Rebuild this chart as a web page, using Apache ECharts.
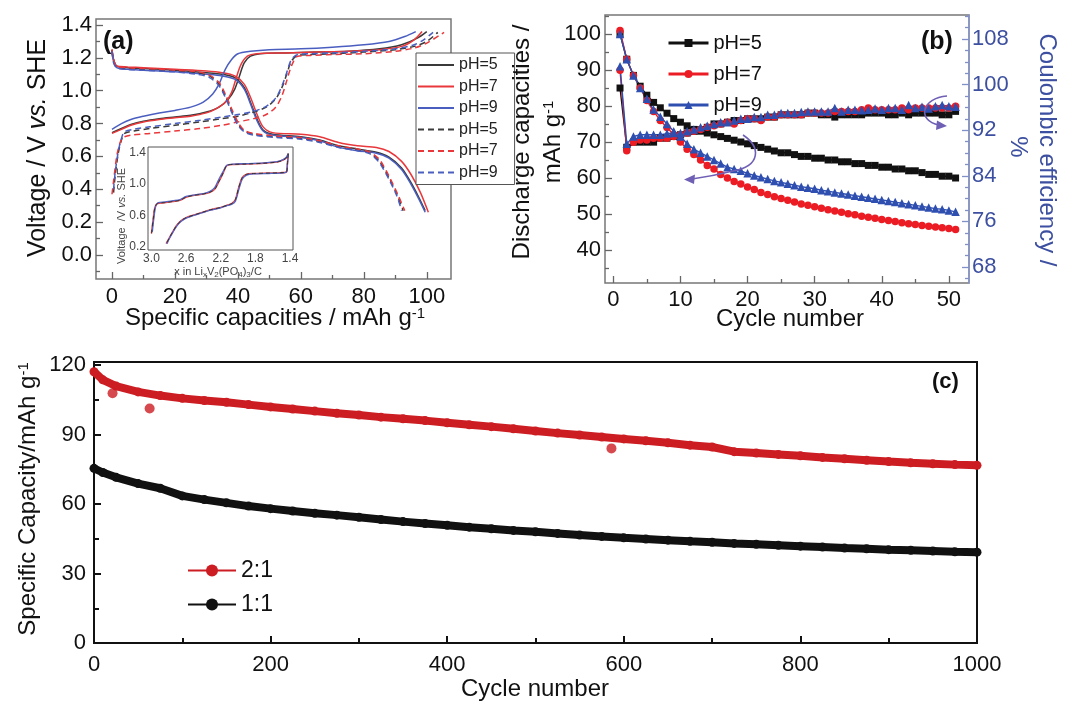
<!DOCTYPE html>
<html><head><meta charset="utf-8">
<script src="https://cdn.jsdelivr.net/npm/echarts@6/dist/echarts.min.js"></script>
<style>html,body{margin:0;padding:0;background:#fff}#c{width:1065px;height:702px}</style>
</head><body><div id="c"></div>
<script>
// ================= DATA =================
// Panel (a): specific capacity (mAh/g) vs voltage (V)
const aS5Charge = [[0,0.745],[3,0.77],[6,0.795],[10,0.815],[15,0.83],[20,0.84],[25,0.85],[30,0.87],[34,0.90],[37,0.95],[39,1.01],[40.5,1.09],[42,1.17],[44,1.21],[47,1.225],[55,1.23],[65,1.235],[75,1.24],[85,1.255],[92,1.28],[97,1.32],[100,1.36]];
const aS5Dis = [[0,1.25],[0.5,1.19],[1.5,1.15],[5,1.14],[10,1.135],[20,1.125],[30,1.11],[35,1.10],[39,1.08],[42,1.02],[44,0.93],[46,0.83],[48,0.76],[51,0.735],[60,0.72],[66,0.70],[72,0.665],[78,0.645],[84,0.625],[88,0.595],[92,0.53],[95,0.44],[97.5,0.35],[99.5,0.27]];
const aS7Charge = [[0,0.74],[3,0.765],[6,0.79],[10,0.81],[15,0.825],[20,0.835],[25,0.845],[30,0.865],[33,0.89],[36,0.93],[38,0.99],[39.5,1.08],[41,1.16],[43,1.21],[46,1.225],[55,1.23],[65,1.235],[75,1.24],[85,1.25],[92,1.27],[96,1.31],[98.5,1.36]];
const aS7Dis = [[0,1.25],[0.5,1.19],[1.5,1.15],[5,1.145],[10,1.14],[20,1.13],[30,1.12],[35,1.11],[39,1.09],[42,1.04],[44,0.96],[46,0.86],[48,0.78],[51,0.745],[60,0.735],[66,0.72],[72,0.685],[78,0.665],[84,0.655],[88,0.63],[92,0.57],[95,0.49],[98,0.38],[100.5,0.26]];
const aS9Charge = [[0,0.765],[3,0.80],[6,0.825],[10,0.845],[15,0.865],[20,0.88],[25,0.90],[29,0.93],[32,0.98],[34,1.04],[36,1.13],[38,1.19],[40,1.225],[44,1.24],[50,1.25],[60,1.255],[70,1.265],[80,1.28],[88,1.30],[93,1.33],[96.5,1.36]];
const aS9Dis = [[0,1.245],[0.5,1.18],[1.5,1.14],[5,1.13],[10,1.125],[20,1.115],[30,1.10],[35,1.09],[39,1.07],[42,1.01],[44,0.92],[46,0.82],[48,0.755],[51,0.73],[60,0.715],[66,0.695],[72,0.655],[78,0.635],[84,0.62],[88,0.59],[92,0.52],[95,0.43],[97.5,0.34],[99.5,0.26]];
const aD5Charge = [[0.5,0.38],[1,0.48],[2,0.62],[3,0.70],[4,0.74],[7,0.755],[12,0.77],[20,0.79],[28,0.81],[35,0.83],[40,0.845],[45,0.87],[49,0.90],[52,0.95],[54,1.02],[55.5,1.10],[57,1.18],[59,1.215],[63,1.22],[70,1.225],[80,1.235],[90,1.25],[96,1.27],[100,1.30],[103.5,1.355]];
const aD5Dis = [[0,1.245],[0.5,1.18],[1.5,1.145],[5,1.135],[10,1.13],[20,1.12],[27,1.11],[31,1.09],[34,1.04],[36,0.97],[38,0.88],[40,0.80],[42,0.755],[45,0.735],[52,0.72],[60,0.71],[66,0.69],[72,0.66],[78,0.64],[82,0.62],[85,0.57],[88,0.47],[90.5,0.37],[92.5,0.27]];
const aD7Charge = [[0,0.37],[0.5,0.45],[1.5,0.60],[2.5,0.68],[3.5,0.715],[6,0.73],[12,0.74],[20,0.755],[28,0.77],[35,0.79],[40,0.81],[45,0.83],[49,0.855],[52,0.90],[54,0.97],[55.5,1.06],[57,1.15],[59,1.21],[63,1.215],[70,1.22],[80,1.225],[90,1.24],[96,1.26],[100,1.29],[105.5,1.355]];
const aD7Dis = [[0,1.25],[0.5,1.19],[1.5,1.15],[5,1.14],[10,1.135],[20,1.125],[27,1.115],[31,1.095],[34,1.05],[36,0.98],[38,0.89],[40,0.81],[42,0.76],[45,0.74],[52,0.725],[60,0.715],[66,0.695],[72,0.665],[78,0.645],[82,0.625],[85,0.58],[88,0.48],[91,0.36],[93,0.27]];
const aD9Charge = [[0.5,0.40],[1,0.50],[2,0.63],[3,0.71],[4,0.75],[7,0.765],[12,0.78],[20,0.80],[28,0.82],[35,0.84],[40,0.855],[45,0.875],[49,0.905],[52,0.955],[54,1.03],[55.5,1.11],[57,1.19],[59,1.22],[63,1.225],[70,1.23],[80,1.24],[90,1.255],[96,1.28],[99,1.31],[102,1.355]];
const aD9Dis = [[0,1.24],[0.5,1.17],[1.5,1.14],[5,1.13],[10,1.125],[20,1.115],[27,1.10],[31,1.08],[34,1.03],[36,0.96],[38,0.87],[40,0.79],[42,0.75],[45,0.73],[52,0.715],[60,0.705],[66,0.685],[72,0.655],[78,0.635],[82,0.615],[85,0.56],[88,0.46],[90.5,0.36],[92,0.27]];
const aXTicks = [0,20,40,60,80,100];
const aXMinor = [10,30,50,70,90];
const aYTicks = [0,0.2,0.4,0.6,0.8,1.0,1.2,1.4];
const aYMinor = [-0.1,0.1,0.3,0.5,0.7,0.9,1.1,1.3];

// Inset: x in LixV2(PO4)3/C vs voltage
const inRedCharge = [[3.0,0.37],[2.98,0.55],[2.96,0.70],[2.93,0.75],[2.85,0.76],[2.75,0.775],[2.67,0.79],[2.60,0.83],[2.50,0.855],[2.40,0.87],[2.33,0.89],[2.27,0.93],[2.22,1.03],[2.17,1.14],[2.13,1.23],[2.05,1.245],[1.90,1.25],[1.70,1.26],[1.55,1.275],[1.48,1.30],[1.44,1.33],[1.42,1.38]];
const inRedDis = [[1.42,1.38],[1.43,1.25],[1.44,1.15],[1.51,1.14],[1.65,1.135],[1.82,1.13],[1.90,1.12],[1.95,1.08],[1.99,0.96],[2.03,0.80],[2.07,0.75],[2.12,0.73],[2.20,0.70],[2.32,0.67],[2.42,0.635],[2.52,0.60],[2.60,0.57],[2.66,0.53],[2.71,0.47],[2.76,0.38],[2.80,0.30],[2.83,0.24]];
const inBlueCharge = [[2.99,0.39],[2.97,0.58],[2.95,0.72],[2.92,0.76],[2.85,0.77],[2.75,0.785],[2.67,0.80],[2.60,0.84],[2.50,0.86],[2.40,0.875],[2.33,0.90],[2.27,0.95],[2.22,1.06],[2.17,1.16],[2.13,1.235],[2.05,1.25],[1.90,1.255],[1.70,1.265],[1.55,1.28],[1.48,1.305],[1.44,1.34],[1.42,1.38]];
const inBlueDis = [[1.42,1.38],[1.43,1.24],[1.445,1.145],[1.51,1.135],[1.65,1.13],[1.82,1.125],[1.90,1.11],[1.95,1.06],[1.99,0.93],[2.03,0.78],[2.07,0.74],[2.12,0.725],[2.20,0.695],[2.32,0.665],[2.42,0.63],[2.52,0.595],[2.60,0.565],[2.66,0.52],[2.71,0.46],[2.76,0.37],[2.80,0.29],[2.82,0.24]];
const inXTicks = [1.4,1.8,2.2,2.6,3.0];
const inXMinor = [1.6,2.0,2.4,2.8];
const inYTicks = [0.2,0.6,1.0,1.4];
const inYMinor = [0.4,0.8,1.2];

// Panel (b): cycles 1..51
const bCycles = [1,2,3,4,5,6,7,8,9,10,11,12,13,14,15,16,17,18,19,20,21,22,23,24,25,26,27,28,29,30,31,32,33,34,35,36,37,38,39,40,41,42,43,44,45,46,47,48,49,50,51];
const bCap5 = [100,93,88.5,85.5,83,81,79.5,78,76.5,75.5,74.5,73.5,73,72.5,72,71.5,71,70.5,70,69.5,69,68.5,68,67.5,67,67,66.5,66,66,65.5,65.5,65,65,64.5,64.5,64,64,63.5,63.5,63,63,62.5,62.5,62,62,61.5,61,61,60.5,60.5,60];
const bCap7 = [101,93,88.5,85,81.5,78.5,76,74,72,70,68,66.5,65,63.5,62.5,61,60,59,58.3,57.5,56.8,56,55.4,54.8,54.3,53.8,53.3,52.8,52.4,52,51.6,51.2,50.8,50.5,50.1,49.8,49.4,49.1,48.8,48.5,48.2,47.9,47.6,47.3,47.1,46.8,46.6,46.4,46.2,46,45.7];
const bCap9 = [100,93,88.5,85,82,79,77,75,73,71.5,69.5,68,67,66,65,64,63,62.5,62,61.3,60.7,60.2,59.7,59.2,58.8,58.4,58,57.6,57.3,57,56.6,56.3,56,55.7,55.4,55.1,54.8,54.5,54.2,53.9,53.6,53.3,53,52.7,52.4,52.1,51.8,51.5,51.3,51,50.6];
const bCE5 = [99.4,89.0,89.9,89.9,89.9,89.9,90.6,90.6,90.9,91.2,91.5,91.8,92.1,92.5,93.1,93.1,93.4,93.7,93.7,94.0,94.0,94.0,94.3,94.3,94.7,94.7,94.7,94.7,95.0,95.0,94.7,94.7,94.3,94.7,94.7,94.7,94.7,95.0,95.0,95.0,94.7,94.7,95.0,94.7,95.0,95.0,95.0,95.0,94.7,94.7,95.3];
const bCE7 = [102.5,88.4,89.9,90.3,90.3,90.6,90.6,90.6,90.9,91.2,91.5,91.8,92.1,92.5,92.8,93.1,93.4,93.1,93.7,94.0,94.0,93.7,94.3,94.3,94.7,94.7,94.7,94.7,95.0,95.0,95.0,95.0,95.3,95.3,95.3,95.3,95.6,95.9,95.6,95.6,95.6,95.6,95.9,95.6,95.9,95.9,95.9,95.9,95.9,95.9,96.2];
const bCE9 = [103.2,89.6,90.9,91.2,91.2,91.2,91.2,91.4,91.5,91.5,91.8,92.1,92.5,92.8,93.1,93.4,93.4,93.7,94.0,94.0,94.3,94.3,94.7,94.7,95.0,95.0,95.0,95.2,95.3,95.3,95.3,95.3,95.9,95.3,95.6,95.6,95.5,95.6,95.8,95.6,95.9,95.9,95.6,96.4,95.9,96.1,95.8,96.2,96.4,96.2,96.1];
const bXTicks = [0,10,20,30,40,50];
const bXMinor = [5,15,25,35,45];
const bYTicks = [40,50,60,70,80,90,100];
const bYMinor = [35,45,55,65,75,85,95,105];
const bRTicks = [68,76,84,92,100,108];
const bRMinor = [66,70,72,74,78,80,82,86,88,90,94,96,98,102,104,106,110,112];

// Panel (c): long cycling
const cCycles = [0,10,25,50,75,100,125,150,175,200,225,250,275,300,325,350,375,400,425,450,475,500,525,550,575,600,625,650,675,700,725,750,775,800,825,850,875,900,925,950,975,1000];
const c21 = [117.1,113.6,110.9,108.4,106.8,105.6,104.7,103.9,102.9,101.9,101.0,100.1,99.2,98.4,97.5,96.8,96.0,95.1,94.2,93.4,92.5,91.5,90.6,89.8,88.9,88.1,87.3,86.4,85.4,84.6,82.6,82.0,81.4,80.8,80.1,79.5,78.9,78.3,77.8,77.4,77.0,76.7];
const c11 = [75.4,73.6,71.5,68.8,66.8,63.5,61.9,60.5,59.1,58.0,57.0,56.0,55.2,54.3,53.3,52.4,51.6,50.8,50.0,49.3,48.6,48.0,47.3,46.6,46.0,45.4,44.9,44.4,43.9,43.5,43.0,42.6,42.2,41.8,41.4,41.0,40.7,40.3,40.0,39.7,39.4,39.2];
const c21Outliers = [[21,107.8],[63,101.2],[586,84.0]];
const cXTicks = [0,200,400,600,800,1000];
const cXMinor = [100,300,500,700,900];
const cYTicks = [0,30,60,90,120];
const cYMinor = [15,45,75,105];

// ================= CHART =================
const FF = 'Liberation Sans, Arial, Helvetica, sans-serif';
const zip = (xs, ys) => xs.map((x, i) => [x, ys[i]]);
const plain = v => String(v);

function axisPair(o) {
  const base = {
    type: 'value', gridIndex: o.grid, position: o.pos, min: o.min, max: o.max,
    inverse: !!o.inverse, splitLine: {show: false}, offset: 0
  };
  const main = Object.assign({}, base, {
    axisLine: o.line ? {show: true, onZero: false, lineStyle: o.line} : {show: false, onZero: false},
    axisTick: {show: true, inside: true, length: o.majorLen || 7, customValues: o.major,
      lineStyle: {color: o.tickColor || '#444', width: o.tickW || 1.3}},
    axisLabel: {show: true, customValues: o.major, fontFamily: FF, fontSize: o.fs,
      color: o.labelColor || '#111', margin: o.margin, formatter: o.fmt || plain}
  });
  const minor = Object.assign({}, base, {
    axisLine: {show: false, onZero: false},
    axisTick: {show: true, inside: true, length: o.minorLen || 4, customValues: o.minor,
      lineStyle: {color: o.tickColor || '#444', width: o.tickW || 1.3}},
    axisLabel: {show: false}
  });
  return [main, minor];
}
const f1 = v => Number(v).toFixed(1);

const xAxes = [].concat(
  axisPair({grid:0, pos:'bottom', min:-5.08, max:107.7, major:aXTicks, minor:aXMinor, fs:22, margin:7, tickColor:'#666'}),
  axisPair({grid:1, pos:'bottom', min:1.365, max:3.04, inverse:true, major:inXTicks, minor:inXMinor, fs:12, margin:3, labelColor:'#444', tickColor:'#666', majorLen:4, minorLen:2, tickW:1, fmt:f1}),
  axisPair({grid:2, pos:'bottom', min:-1.24, max:53.0, major:bXTicks, minor:bXMinor, fs:22, margin:6, tickColor:'#666'}),
  axisPair({grid:3, pos:'bottom', min:0, max:1000, major:cXTicks, minor:cXMinor, fs:22, margin:11, tickColor:'#111', majorLen:7, minorLen:5, tickW:2})
);
const yAxes = [].concat(
  axisPair({grid:0, pos:'left', min:-0.146, max:1.4365, major:aYTicks, minor:aYMinor, fs:22, margin:4, tickColor:'#666', fmt:f1}),
  axisPair({grid:1, pos:'left', min:0.16, max:1.466, major:inYTicks, minor:inYMinor, fs:12, margin:2, labelColor:'#444', tickColor:'#666', majorLen:4, minorLen:2, tickW:1, fmt:f1}),
  axisPair({grid:2, pos:'left', min:30.83, max:105.28, major:bYTicks, minor:bYMinor, fs:22, margin:4, tickColor:'#666'}),
  axisPair({grid:2, pos:'right', min:65.19, max:112.21, major:bRTicks, minor:bRMinor, fs:22, margin:3, labelColor:'#3c4fa0', tickColor:'#8290c8', line:{color:'#8a98cf', width:1.5}}),
  axisPair({grid:3, pos:'left', min:0, max:121.3, major:cYTicks, minor:cYMinor, fs:22, margin:8, tickColor:'#111', majorLen:7, minorLen:5, tickW:2})
);
// axis indices: x: A=0, inset=2, B=4, C=6 ; y: A=0, inset=2, B-left=4, B-right=6, C=8

const series = [];
function lineA(name, data, color, dashed) {
  series.push({type:'line', name, data, xAxisIndex:0, yAxisIndex:0, symbol:'none', smooth:0.3,
    lineStyle:{color, width:1.5, type: dashed ? [6,4] : 'solid'}, itemStyle:{color}, z: 3});
}
const cA5 = '#3a3a3a', cA7 = '#e8383c', cA9 = '#4a5ec0';
lineA('pH=5 ', aS5Charge, cA5, false); lineA('pH=5 ', aS5Dis, cA5, false);
lineA('pH=7 ', aS7Charge, cA7, false); lineA('pH=7 ', aS7Dis, cA7, false);
lineA('pH=9 ', aS9Charge, cA9, false); lineA('pH=9 ', aS9Dis, cA9, false);
lineA('pH=5  ', aD5Charge, cA5, true); lineA('pH=5  ', aD5Dis, cA5, true);
lineA('pH=7  ', aD7Charge, cA7, true); lineA('pH=7  ', aD7Dis, cA7, true);
lineA('pH=9  ', aD9Charge, cA9, true); lineA('pH=9  ', aD9Dis, cA9, true);

function lineIn(name, data, color, width, dashed) {
  series.push({type:'line', name, data, xAxisIndex:2, yAxisIndex:2, symbol:'none', smooth:0.3,
    lineStyle:{color, width, type: dashed ? [4,3] : 'solid'}, z: 5});
}
lineIn('in-r', inRedCharge, '#e84848', 1.6); lineIn('in-r', inRedDis, '#e84848', 1.6);
lineIn('in-b', inBlueCharge, '#5565c5', 1.3); lineIn('in-b', inBlueDis, '#5565c5', 1.3);
lineIn('in-k', inRedCharge, '#333', 1, true); lineIn('in-k', inRedDis, '#333', 1, true);

function lineB(name, vals, yIdx, color, symbol, size) {
  series.push({type:'line', name, data: zip(bCycles, vals), xAxisIndex:4, yAxisIndex:yIdx,
    symbol, symbolSize:size, showSymbol:true, lineStyle:{color, width:1.4}, itemStyle:{color}, z:3});
}
lineB('pH=5', bCap5, 4, '#111', 'rect', 7); lineB('pH=5', bCE5, 6, '#111', 'rect', 7);
lineB('pH=7', bCap7, 4, '#ec1c24', 'circle', 7.5); lineB('pH=7', bCE7, 6, '#ec1c24', 'circle', 7.5);
lineB('pH=9', bCap9, 4, '#2f4fb0', 'triangle', 8.5); lineB('pH=9', bCE9, 6, '#2f4fb0', 'triangle', 8.5);

series.push({type:'line', name:'1:1', data: zip(cCycles, c11), xAxisIndex:6, yAxisIndex:8,
  symbol:'circle', symbolSize:9, lineStyle:{color:'#111', width:8}, itemStyle:{color:'#111'}, z:3});
series.push({type:'line', name:'2:1', data: zip(cCycles, c21), xAxisIndex:6, yAxisIndex:8,
  symbol:'circle', symbolSize:9, lineStyle:{color:'#cc1d23', width:8}, itemStyle:{color:'#cc1d23'}, z:4});
series.push({type:'scatter', name:'2:1o', data: c21Outliers, xAxisIndex:6, yAxisIndex:8,
  symbol:'circle', symbolSize:10, itemStyle:{color:'#cc1d23'}, z:4});

function txt(x, y, text, fs, opts) {
  opts = opts || {};
  const rich = {
    n: {fontFamily: FF, fontSize: fs, fill: opts.color || '#111', fontWeight: opts.bold ? 'bold' : 'normal'},
    it: {fontFamily: FF, fontSize: fs, fill: opts.color || '#111', fontStyle: 'italic'},
    sup: {fontFamily: FF, fontSize: Math.round(fs * 0.62), fill: opts.color || '#111', verticalAlign: 'top', lineHeight: fs},
    sub: {fontFamily: FF, fontSize: Math.max(8, Math.round(fs * 0.7)), fill: opts.color || '#111', verticalAlign: 'bottom', lineHeight: fs * 1.3}
  };
  return {type:'text', x, y, rotation: opts.rot || 0, z: 100,
    style: {text, rich, fontFamily: FF, fontSize: fs, fill: opts.color || '#111', fontWeight: opts.bold ? 'bold' : 'normal',
      align: opts.align || 'center', verticalAlign: 'middle', textAlign: opts.align || 'center', textVerticalAlign: 'middle'}};
}
const P = Math.PI / 2;
const purple = '#6f5fb5';
const graphics = [
  txt(103, 42, '{n|(a)}', 25, {bold:true, align:'left'}),
  txt(921, 42, '{n|(b)}', 25, {bold:true, align:'left'}),
  txt(932, 382, '{n|(c)}', 22, {bold:true, align:'left'}),
  txt(38, 148, '{n|Voltage / V }{it|vs.}{n| SHE}', 25, {rot:P}),
  txt(275, 318, '{n|Specific capacities / mAh g}{sup|-1}', 24),
  txt(122, 216, '{n|Voltage  /V }{it|vs.}{n| SHE}', 11, {rot:P, color:'#444'}),
  txt(218, 272, '{n|x in Li}{sub|x}{n|V}{sub|2}{n|(PO}{sub|4}{n|)}{sub|3}{n|/C}', 11, {color:'#444'}),
  txt(522, 142, '{n|Discharge capacities /}', 24, {rot:P}),
  txt(553, 142, '{n|mAh g}{sup|-1}', 24, {rot:P}),
  txt(790, 319, '{n|Cycle number}', 24),
  txt(1047, 150, '{n|Coulombic efficiency /}', 24, {rot:-P, color:'#3c4fa0'}),
  txt(1018, 147, '{n|%}', 24, {rot:-P, color:'#3c4fa0'}),
  txt(28, 499, '{n|Specific Capacity/mAh g}{sup|-1}', 24, {rot:P}),
  txt(535, 689, '{n|Cycle number}', 24),
  {type:'bezierCurve', z:50, shape:{x1:743,y1:135,cpx1:761,cpy1:147,cpx2:761,cpy2:166,x2:733,y2:171}, style:{stroke:purple, lineWidth:1.6, fill:null}},
  {type:'bezierCurve', z:50, shape:{x1:733,y1:171,cpx1:713,cpy1:176,x2:692,y2:179}, style:{stroke:purple, lineWidth:1.6, fill:null}},
  {type:'polygon', z:50, shape:{points:[[684,179.5],[695,174.5],[694,184]]}, style:{fill:purple}},
  {type:'bezierCurve', z:50, shape:{x1:947,y1:96,cpx1:922,cpy1:98,cpx2:916,cpy2:120,x2:939,y2:125}, style:{stroke:purple, lineWidth:1.6, fill:null}},
  {type:'polygon', z:50, shape:{points:[[947,126],[937,120.5],[936,130]]}, style:{fill:purple}}
];

const option = {
  animation: false,
  backgroundColor: '#fff',
  grid: [
    {left:96, top:19, width:355, height:260, show:true, borderColor:'#777', borderWidth:1.5, backgroundColor:'transparent'},
    {left:148, top:147, width:145, height:103, show:true, borderColor:'#555', borderWidth:1, backgroundColor:'#fff', z:4},
    {left:605, top:15, width:364, height:268, show:true, borderColor:'#777', borderWidth:1.5, backgroundColor:'transparent'},
    {left:94, top:362, width:883, height:281, show:true, borderColor:'#111', borderWidth:2, backgroundColor:'transparent'}
  ],
  xAxis: xAxes,
  yAxis: yAxes,
  legend: [
    {data:['pH=5 ','pH=7 ','pH=9 ','pH=5  ','pH=7  ','pH=9  '], orient:'vertical', left:416, top:53,
     itemWidth:36, itemHeight:14, itemGap:5.5, padding:[4,8,4,1], borderColor:'#555', borderWidth:1, backgroundColor:'#fff',
     textStyle:{fontFamily:FF, fontSize:16, color:'#222'}, selectedMode:false, z:20, itemStyle:{opacity:0}},
    {data:['pH=5','pH=7','pH=9'], orient:'vertical', left:667, top:33, itemWidth:40, itemHeight:10, itemGap:11, padding:0,
     textStyle:{fontFamily:FF, fontSize:20, color:'#111'}, selectedMode:false, lineStyle:{width:3}},
    {data:['2:1','1:1'], orient:'vertical', left:187, top:559, itemWidth:48, itemHeight:15, itemGap:11, padding:0,
     textStyle:{fontFamily:FF, fontSize:23, color:'#111'}, selectedMode:false, lineStyle:{width:2}}
  ],
  graphic: graphics,
  series
};
const chart = echarts.init(document.getElementById('c'), null, {renderer:'canvas'});
chart.setOption(option);
</script></body></html>
